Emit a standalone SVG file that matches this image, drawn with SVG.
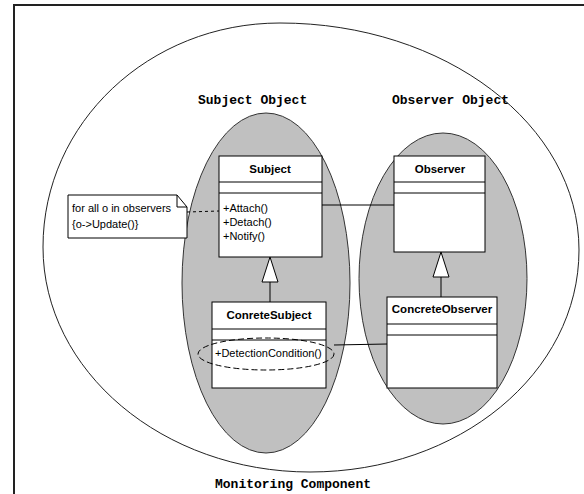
<svg xmlns="http://www.w3.org/2000/svg" width="584" height="494" viewBox="0 0 584 494">
<style>
.lbl{font-family:"Liberation Mono","DejaVu Sans Mono",monospace;font-weight:bold;font-size:13px;fill:#000}
.cls{font-family:"Liberation Sans",Arial,sans-serif;font-weight:bold;font-size:11.5px;fill:#000;text-anchor:middle}
.txt{font-family:"Liberation Sans",Arial,sans-serif;font-size:11px;fill:#000}
.box{fill:#fff;stroke:#000;stroke-width:1}
.blob{fill:#c0c0c0;stroke:#333;stroke-width:1}
.ln{stroke:#000;stroke-width:1;fill:none}
.dash{stroke:#000;stroke-width:1;fill:none;stroke-dasharray:3,3}
.dash2{stroke:#000;stroke-width:1;fill:none;stroke-dasharray:6,3}
.tri{fill:#fff;stroke:#000;stroke-width:1}
</style>
<rect width="584" height="494" fill="#fff"/>
<rect x="14" y="5" width="620" height="600" fill="none" stroke="#222" stroke-width="2"/>
<g id="monitoring-component">
<path d="M280,23 C445,23 579,125 579,250 C579,373 459,472 310,472 C163,472 43,371 43,247 C43,123 149,23 280,23 Z" fill="none" stroke="#222" stroke-width="1"/>
<text class="lbl" x="215" y="488">Monitoring Component</text>
</g>
<g id="subject-object">
<ellipse class="blob" cx="266" cy="283" rx="84" ry="170"/>
<text class="lbl" x="198" y="104">Subject Object</text>
</g>
<g id="observer-object">
<ellipse class="blob" cx="443" cy="278.5" rx="84" ry="145.5"/>
<text class="lbl" x="392" y="104">Observer Object</text>
</g>
<g id="connectors">
<line class="ln" x1="322" y1="205" x2="394" y2="205"/>
<line class="dash" x1="187" y1="212" x2="219" y2="211"/>
<line class="ln" x1="270" y1="282" x2="270" y2="302"/>
<polygon class="tri" points="270,257 262,282 278,282"/>
<line class="ln" x1="441" y1="277" x2="441" y2="297"/>
<polygon class="tri" points="441,252 433,277 449,277"/>
<line class="ln" x1="334" y1="345" x2="387" y2="344"/>
</g>
<g id="note">
<path d="M68,195 L177,195 L187,207 L187,238 L68,238 Z" fill="#fff" stroke="#000" stroke-width="1"/>
<path d="M177,195 L177,207 L187,207" fill="none" stroke="#000" stroke-width="1"/>
<text class="txt" x="72" y="212">for all o in observers</text>
<text class="txt" x="72" y="228">{o-&gt;Update()}</text>
</g>
<g id="subject">
<rect class="box" x="219" y="156" width="103" height="101"/>
<line class="ln" x1="219" y1="182" x2="322" y2="182"/>
<line class="ln" x1="219" y1="193" x2="322" y2="193"/>
<text class="cls" x="270" y="173">Subject</text>
<text class="txt" x="223" y="212">+Attach()</text>
<text class="txt" x="223" y="226">+Detach()</text>
<text class="txt" x="223" y="240">+Notify()</text>
</g>
<g id="observer">
<rect class="box" x="394" y="156" width="91" height="96"/>
<line class="ln" x1="394" y1="182" x2="485" y2="182"/>
<line class="ln" x1="394" y1="193" x2="485" y2="193"/>
<text class="cls" x="440" y="173">Observer</text>
</g>
<g id="concrete-subject">
<rect class="box" x="212" y="302" width="114" height="86"/>
<line class="ln" x1="212" y1="329" x2="326" y2="329"/>
<line class="ln" x1="212" y1="340" x2="326" y2="340"/>
<text class="cls" x="269" y="319">ConreteSubject</text>
<ellipse class="dash2" cx="266" cy="354" rx="68" ry="16"/>
<text class="txt" x="215" y="357">+DetectionCondition()</text>
</g>
<g id="concrete-observer">
<rect class="box" x="387" y="297" width="110" height="91"/>
<line class="ln" x1="387" y1="324" x2="497" y2="324"/>
<line class="ln" x1="387" y1="335" x2="497" y2="335"/>
<text class="cls" x="442" y="313">ConcreteObserver</text>
</g>
</svg>
